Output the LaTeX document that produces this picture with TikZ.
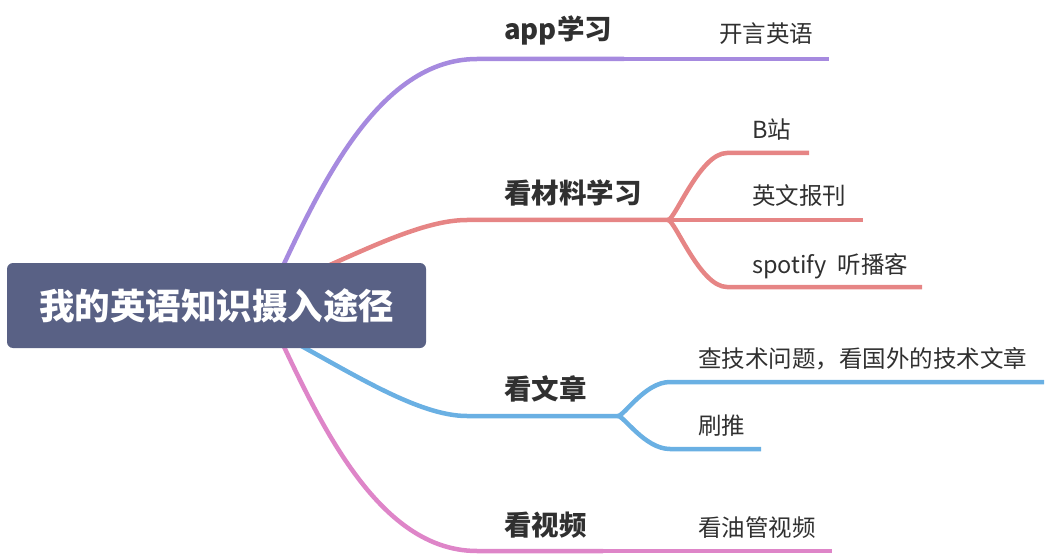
\documentclass[tikz,border=0pt]{standalone}
\usepackage{fontspec}
\setmainfont{Noto Sans CJK SC}
\usetikzlibrary{backgrounds}
\definecolor{rootbg}{HTML}{596185}
\definecolor{appc}{HTML}{A68ADF}
\definecolor{matc}{HTML}{E68585}
\definecolor{artc}{HTML}{6AB0E3}
\definecolor{vidc}{HTML}{DE85C8}
\definecolor{ink}{HTML}{303030}
\newcommand{\rootfont}{\fontsize{35.5}{40}\selectfont\bfseries}
\newcommand{\topicfont}{\fontsize{27.5}{30}\selectfont\bfseries}
\newcommand{\leaffont}{\fontsize{23.5}{26}\selectfont}
\begin{document}
\begin{tikzpicture}[x=1pt, y=-1pt,
  branch/.style={line width=4.5pt},
  rootbox/.style={fill=rootbg, rounded corners=6pt, minimum width=419pt,
    minimum height=85pt, inner sep=0pt, text=white, font=\rootfont},
  topic/.style={anchor=base west, inner sep=0pt, text=ink, font=\topicfont},
  leaf/.style={anchor=base west, inner sep=0pt, text=ink, font=\leaffont}]
\useasboundingbox (0,0) rectangle (1052,556);
\node[rootbox] (root) at (216.5,305.5) {我的英语知识摄入途径};
% topics
\node[topic] (app) at (504,40) {app学习};
\node[topic] (mat) at (504,203.5) {看材料学习};
\node[topic] (art) at (504,399) {看文章};
\node[topic] (vid) at (504,535) {看视频};
% leaves
\node[leaf] (app1) at (719,43) {开言英语};
\node[leaf] (mat1) at (752,139) {B站};
\node[leaf] (mat2) at (752,205) {英文报刊};
\node[leaf] (mat3) at (752,273.5) {spotify\hspace{0.25em} 听播客};
\node[leaf] (art1) at (698,367) {查技术问题，看国外的技术文章};
\node[leaf] (art2) at (698,434.5) {刷推};
\node[leaf] (vid1) at (698,536) {看油管视频};
% line points
\coordinate (appL) at (477,59);
\coordinate (appM) at (624,59);
\coordinate (app1E) at (829,59);
\coordinate (matL) at (467,220);
\coordinate (matF) at (668,220);
\coordinate (mat1S) at (727,153);
\coordinate (mat1E) at (809,153);
\coordinate (mat2E) at (863,220);
\coordinate (mat3S) at (727,287);
\coordinate (mat3E) at (922,287);
\coordinate (artL) at (467,416);
\coordinate (artF) at (618,416);
\coordinate (art1S) at (670,382);
\coordinate (art1E) at (1044,382);
\coordinate (art2S) at (670,449);
\coordinate (art2E) at (761,449);
\coordinate (vidL) at (477,551);
\coordinate (vidM) at (603,551);
\coordinate (vid1E) at (832,551);
\begin{scope}[on background layer]
\draw[branch, appc] ([xshift=48pt]root.center) .. controls (310,210) and (370,59) .. (appL) -- (appM);
\draw[branch, appc] (appM) -- (app1E);
\draw[branch, matc] (root.center) .. controls (300,290) and (400,220) .. (matL) -- (matF);
\draw[branch, matc] (matF) .. controls (675,220) and (700,153) .. (mat1S) -- (mat1E);
\draw[branch, matc] (matF) -- (mat2E);
\draw[branch, matc] (matF) .. controls (675,220) and (700,287) .. (mat3S) -- (mat3E);
\draw[branch, artc] (root.center) .. controls (300,335) and (400,416) .. (artL) -- (artF);
\draw[branch, artc] (artF) .. controls (624,416) and (645,382) .. (art1S) -- (art1E);
\draw[branch, artc] (artF) .. controls (624,416) and (645,449) .. (art2S) -- (art2E);
\draw[branch, vidc] ([xshift=48pt]root.center) .. controls (310,400) and (370,551) .. (vidL) -- (vidM);
\draw[branch, vidc] (vidM) -- (vid1E);
\end{scope}
\end{tikzpicture}
\end{document}
